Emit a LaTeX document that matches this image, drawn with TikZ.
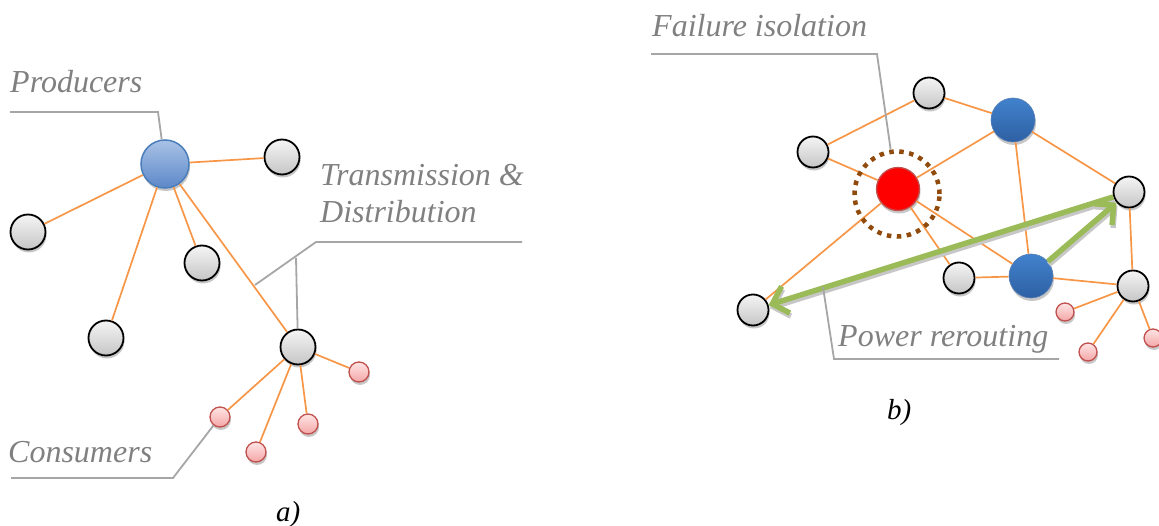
\documentclass[tikz,border=0pt]{standalone}
\usepackage{fontspec}
\setmainfont{Liberation Serif}
\newfontfamily\lblfont{Liberation Serif}
\usetikzlibrary{shadows,arrows.meta}
\definecolor{org}{HTML}{F79646}
\definecolor{callg}{HTML}{A6A6A6}
\definecolor{txtg}{HTML}{808080}
\definecolor{grn}{HTML}{9BBB59}
\definecolor{brn}{HTML}{8F4A0C}
\definecolor{pkb}{HTML}{C0504D}
\definecolor{pkt}{HTML}{FFE5E5}
\definecolor{pkd}{HTML}{F4A6A6}
\definecolor{lbt}{HTML}{A9C2E6}
\definecolor{lbd}{HTML}{5C88C8}
\definecolor{lbb}{HTML}{4A7EBB}
\definecolor{dbt}{HTML}{4182CD}
\definecolor{dbd}{HTML}{2E60A3}
\tikzset{
  shd/.style={drop shadow={shadow xshift=1pt,shadow yshift=-3pt,fill=black!22,opacity=1}},
  gnode/.style={circle,draw=black,line width=1.8pt,top color=gray!8,bottom color=gray!45,inner sep=0pt,minimum size=#1,shd},
  pnode/.style={circle,draw=pkb,line width=1.3pt,top color=pkt,bottom color=pkd,inner sep=0pt,minimum size=#1,shd},
  prod/.style={circle,draw=lbb,line width=1.5pt,top color=lbt,bottom color=lbd,inner sep=0pt,minimum size=48pt,shd},
  bnode/.style={circle,draw=dbd!80,line width=0.6pt,top color=dbt,bottom color=dbd,inner sep=0pt,minimum size=44pt,shd},
  rnode/.style={circle,draw=pkb,line width=1.3pt,fill=red,inner sep=0pt,minimum size=43pt,shd},
  ledge/.style={draw=org,line width=1.7pt},
  call/.style={draw=callg,line width=1.8pt},
  lbl/.style={text=txtg,font=\lblfont\fontsize{32}{37}\selectfont\itshape,inner sep=0pt,anchor=base west},
  captxt/.style={text=black,font=\lblfont\fontsize{29}{34}\selectfont\itshape,inner sep=0pt,anchor=base west},
  garrow/.style={draw=grn,line width=5.5pt,-{Straight Barb[length=14pt,width=28pt]}},
  gshadow/.style={draw=black!22,line width=5.5pt,-{Straight Barb[length=14pt,width=28pt]},transform canvas={xshift=1pt,yshift=-3pt}}
}
\begin{document}
\begin{tikzpicture}[x=1pt,y=-1pt]
\useasboundingbox (0,0) rectangle (1159,526);
% ---------- panel a ----------
\node[prod] (P) at (165,164) {};
\node[gnode=35pt] (a1) at (282,157) {};
\node[gnode=35pt] (a2) at (28,232) {};
\node[gnode=35pt] (a3) at (202,263) {};
\node[gnode=35pt] (a4) at (106,338) {};
\node[gnode=35pt] (hub) at (298,347) {};
\node[pnode=20pt] (c1) at (359,372) {};
\node[pnode=20pt] (c2) at (220,417) {};
\node[pnode=20pt] (c3) at (308,424) {};
\node[pnode=20pt] (c4) at (256,452) {};
\foreach \n in {a1,a2,a3,a4,hub} \draw[ledge] (P) -- (\n);
\foreach \n in {c1,c2,c3,c4} \draw[ledge] (hub) -- (\n);
% callouts a
\node[lbl] (tprod) at (10,93) {Producers};
\coordinate (pa) at (10,112);
\coordinate (pb) at (158,112);
\draw[call] (pa) -- (pb) -- (P);
\node[lbl] (ttr) at (320,186) {Transmission \&};
\node[lbl] (tds) at (320,223) {Distribution};
\coordinate (ta) at (522,242);
\coordinate (tb) at (316,242);
\coordinate (tc) at (255,285);
\coordinate (td) at (296,258);
\draw[call] (ta) -- (tb) -- (tc);
\draw[call] (td) -- (hub);
\node[lbl] (tcons) at (8,462) {Consumers};
\coordinate (ca) at (11,478);
\coordinate (cb) at (173,478);
\draw[call] (ca) -- (cb) -- (c2);
\node[captxt] (capa) at (276,521) {a)};
% ---------- panel b ----------
\node[gnode=31pt] (g1) at (813,152) {};
\node[gnode=31pt] (g2) at (929,93) {};
\node[bnode] (b1) at (1013,120) {};
\node[rnode] (r) at (898,189) {};
\node[gnode=31pt] (g3) at (1129,192) {};
\node[gnode=31pt] (g4) at (753,310) {};
\node[gnode=31pt] (g5) at (959,278) {};
\node[bnode] (b2) at (1031,276) {};
\node[gnode=31pt] (g6) at (1133,286) {};
\node[pnode=18pt] (d1) at (1065,312) {};
\node[pnode=18pt] (d2) at (1088,352) {};
\node[pnode=18pt] (d3) at (1153,338) {};
\draw[ledge] (g1) -- (g2);
\draw[ledge] (g2) -- (b1);
\draw[ledge] (g1) -- (r);
\draw[ledge] (r) -- (b1);
\draw[ledge] (b1) -- (g3);
\draw[ledge] (b1) -- (b2);
\draw[ledge] (r) -- (g4);
\draw[ledge] (r) -- (g5);
\draw[ledge] (r) -- (b2);
\draw[ledge] (g5) -- (b2);
\draw[ledge] (b2) -- (g6);
\draw[ledge] (g3) -- (g6);
\foreach \n in {d1,d2,d3} \draw[ledge] (g6) -- (\n);
\node[circle,draw=brn,line width=4.5pt,dash pattern=on 4.5pt off 5.5pt,minimum size=85pt,inner sep=0pt] (iso) at (897,194) {};
% green arrows
\draw[gshadow] (g3) -- (g4);
\draw[gshadow] (b2) -- (g3);
\draw[garrow] (g3) -- (g4);
\draw[garrow] (b2) -- (g3);
% callouts b
\node[lbl] (tfail) at (652,37) {Failure isolation};
\coordinate (fa) at (651,54);
\coordinate (fb) at (877,54);
\draw[call] (fa) -- (fb) -- (iso);
\node[lbl] (tpow) at (838,347) {Power rerouting};
\coordinate (wa) at (1059,359);
\coordinate (wb) at (834,359);
\coordinate (wc) at (823,287);
\draw[call] (wa) -- (wb) -- (wc);
\node[captxt] (capb) at (887,419) {b)};
\end{tikzpicture}
\end{document}
